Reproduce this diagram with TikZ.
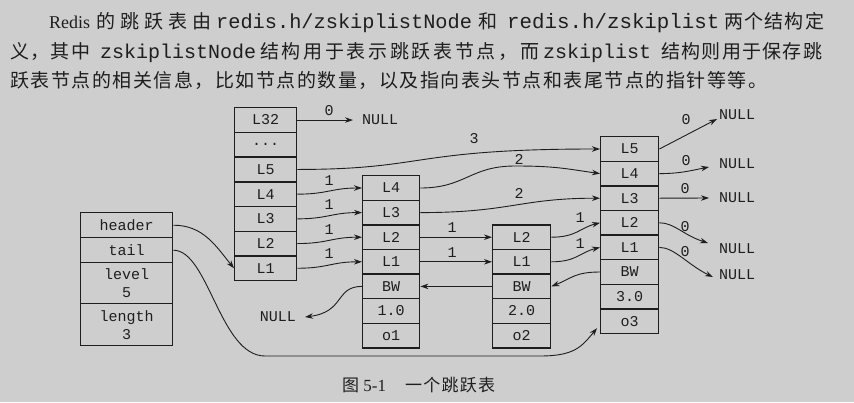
\documentclass[tikz,border=0pt]{standalone}
\usepackage{fontspec}
\setmainfont{Liberation Serif}
\newfontfamily\cjk{Noto Sans CJK SC}
\newfontfamily\mono{Liberation Mono}
\usetikzlibrary{arrows.meta}
\definecolor{bg}{RGB}{206,206,206}
\definecolor{ink}{RGB}{30,30,30}
% spread CJK characters evenly over a given width
\def\spreadA#1{#1\spreadB}
\def\spreadB#1{\ifx\relax#1\else\hfil#1\expandafter\spreadB\fi}
\newcommand\zhs[2]{\makebox[#1][s]{\cjk\spreadA#2\relax}}
\tikzset{
 cell/.style={draw=ink, line width=1.4pt, anchor=north west, inner sep=0pt, text=ink, font=\mono\fontsize{15}{18}\selectfont, align=center},
 headcell/.style={cell, minimum width=62pt, minimum height=24.7pt},
 ncell/.style={cell, minimum width=57pt, minimum height=24.6pt},
 mcell/.style={cell, minimum width=58pt, minimum height=24.6pt},
 conn/.style={draw=ink, line width=0.9pt, -{Stealth[length=8pt,width=5.5pt]}},
 lbl/.style={text=ink, inner sep=0pt, font=\mono\fontsize{15}{15}\selectfont},
 nul/.style={text=ink, inner sep=0pt, anchor=west, font=\mono\fontsize{15}{15}\selectfont},
 zhseg/.style={text=ink, inner sep=0pt, anchor=base west, font=\fontsize{19}{20}\selectfont},
 codeseg/.style={text=ink, inner sep=0pt, anchor=base west, font=\mono\fontsize{20}{20}\selectfont},
}
\begin{document}
\begin{tikzpicture}[x=1pt,y=-1pt]
\fill[bg] (0,0) rectangle (854,402);
\useasboundingbox (0,0) rectangle (854,402);

% paragraph, line 1
\node[zhseg, font=\fontsize{18}{20}\selectfont] (t1a) at (49,28.5) {Redis};
\node[zhseg] (t1b) at (96,28.5) {\zhs{115pt}{的跳跃表由}};
\node[codeseg, font=\mono\fontsize{20.3}{20}\selectfont] (t1c) at (216,28.5) {redis.h/zskiplistNode};
\node[zhseg] (t1d) at (478,28.5) {\zhs{19pt}{和}};
\node[codeseg, font=\mono\fontsize{20.8}{20}\selectfont] (t1e) at (507,28.5) {redis.h/zskiplist};
\node[zhseg] (t1f) at (724,28.5) {\zhs{100pt}{两个结构定}};
% line 2
\node[zhseg] (t2a) at (10,58.5) {\zhs{80pt}{义，其中}};
\node[codeseg] (t2b) at (100,58.5) {zskiplistNode};
\node[zhseg] (t2c) at (260,58.5) {\zhs{279pt}{结构用于表示跳跃表节点，而}};
\node[codeseg] (t2d) at (543,58.5) {zskiplist};
\node[zhseg] (t2e) at (661,58.5) {\zhs{161pt}{结构则用于保存跳}};
% line 3
\node[zhseg] (t3) at (10,87) {\zhs{757pt}{跃表节点的相关信息，比如节点的数量，以及指向表头节点和表尾节点的指针等等。}};

% zskiplist struct
\node[cell, minimum width=92pt, minimum height=25pt] (hdr) at (80,212) {header};
\node[cell, minimum width=92pt, minimum height=25pt] (tl) at (80,237) {tail};
\node[cell, minimum width=92pt, minimum height=41pt] (lvl) at (80,262) {level\\5};
\node[cell, minimum width=92pt, minimum height=42pt] (len) at (80,303) {length\\3};

% header node
\node[headcell] (h32) at (234,107) {L32};
\node[headcell] (hd) at (234,131.7) {...};
\node[headcell] (h5) at (234,156.4) {L5};
\node[headcell] (h4) at (234,181.1) {L4};
\node[headcell] (h3) at (234,205.8) {L3};
\node[headcell] (h2) at (234,230.5) {L2};
\node[headcell] (h1) at (234,255.2) {L1};

% node o1
\node[ncell] (a4) at (362,175) {L4};
\node[ncell] (a3) at (362,199.6) {L3};
\node[ncell] (a2) at (362,224.2) {L2};
\node[ncell] (a1) at (362,248.8) {L1};
\node[ncell] (abw) at (362,273.4) {BW};
\node[ncell] (asc) at (362,298) {1.0};
\node[ncell] (aob) at (362,322.6) {o1};

% node o2
\node[mcell] (b2) at (492,224.2) {L2};
\node[mcell] (b1) at (492,248.8) {L1};
\node[mcell] (bbw) at (492,273.4) {BW};
\node[mcell] (bsc) at (492,298) {2.0};
\node[mcell] (bob) at (492,322.6) {o2};

% node o3
\node[mcell] (c5) at (600,136) {L5};
\node[mcell] (c4) at (600,160.6) {L4};
\node[mcell] (c3) at (600,185.2) {L3};
\node[mcell] (c2) at (600,209.8) {L2};
\node[mcell] (c1) at (600,234.4) {L1};
\node[mcell] (cbw) at (600,259) {BW};
\node[mcell] (csc) at (600,283.6) {3.0};
\node[mcell] (cob) at (600,308.2) {o3};

% NULLs
\node[nul] (nA) at (362,120) {NULL};
\node[nul, anchor=east] (nB) at (296,317) {NULL};
\node[nul] (nC1) at (719,115) {NULL};
\node[nul] (nC2) at (719,164) {NULL};
\node[nul] (nC3) at (719,198) {NULL};
\node[nul] (nC4) at (719,249) {NULL};
\node[nul] (nC5) at (719,275) {NULL};

% connectors
\draw[conn, shorten >=9pt] (h32.east) -- (h32.east -| nA.west);
\draw[conn] (h5.east) .. controls +(130,0) and +(-190,0) .. (c5.west);
\draw[conn] (h4.east) .. controls +(30,0) and +(-30,0) .. (a4.west);
\draw[conn] (h3.east) .. controls +(30,0) and +(-30,0) .. (a3.west);
\draw[conn] (h2.east) .. controls +(30,0) and +(-30,0) .. (a2.west);
\draw[conn] (h1.east) .. controls +(30,0) and +(-30,0) .. (a1.west);
\draw[conn] (a4.east) .. controls +(45,0) and +(-45,0) .. (515,166) .. controls +(40,0) and +(-35,-5) .. (c4.west);
\draw[conn] (a3.east) .. controls +(90,0) and +(-80,0) .. (c3.west);
\draw[conn] (a2.east) -- (b2.west);
\draw[conn] (a1.east) -- (b1.west);
\draw[conn] (b2.east) .. controls +(25,0) and +(-20,5) .. (c2.west);
\draw[conn] (b1.east) .. controls +(25,0) and +(-20,5) .. (c1.west);
\draw[conn] (cbw.west) .. controls +(-25,0) and +(20,-8) .. (bbw.east);
\draw[conn] (bbw.west) -- (abw.east);
\draw[conn] (abw.west) .. controls +(-27,0) and +(40,-5) .. ([xshift=9pt]nB.east);
\draw[conn] (c5.east) -- ([xshift=-2pt,yshift=-4pt]nC1.west);
\draw[conn] (c4.east) .. controls +(20,0) and +(-20,4) .. ([xshift=-10pt,yshift=-3pt]nC2.west);
\draw[conn] (c3.east) -- ([xshift=-10pt]nC3.west);
\draw[conn] (c2.east) .. controls +(15,0) and +(-25,-8) .. ([xshift=-11pt,yshift=6pt]nC4.west);
\draw[conn] (c1.east) .. controls +(15,0) and +(-25,-12) .. ([xshift=-6pt,yshift=-2pt]nC5.west);
\draw[conn] (hdr.east) .. controls +(30,0) and +(-18,-22) .. (h1.west);
\draw[conn] (tl.east) .. controls +(35,0) and +(-45,0) .. (265,356) -- (540,356) .. controls +(35,0) and +(-15,18) .. ([xshift=-3pt,yshift=-7pt]cob.west);

% labels
\node[lbl] (l0) at (329,111) {0};
\node[lbl] (l3) at (474,139) {3};
\node[lbl] (l2a) at (519,159) {2};
\node[lbl] (l2b) at (519,193) {2};
\node[lbl] (l1a) at (329,181) {1};
\node[lbl] (l1b) at (329,205) {1};
\node[lbl] (l1c) at (329,230) {1};
\node[lbl] (l1d) at (329,254) {1};
\node[lbl] (l1e) at (452,228) {1};
\node[lbl] (l1f) at (452,253) {1};
\node[lbl] (l1g) at (580,218) {1};
\node[lbl] (l1h) at (580,244) {1};
\node[lbl] (r0a) at (686,120) {0};
\node[lbl] (r0b) at (686,161) {0};
\node[lbl] (r0c) at (685,189) {0};
\node[lbl] (r0d) at (685,227) {0};
\node[lbl] (r0e) at (685,252) {0};

% caption
\node[zhseg, font=\fontsize{17}{20}\selectfont] (cap1) at (342,391) {{\cjk 图} 5-1};
\node[zhseg, font=\fontsize{17}{20}\selectfont] (cap2) at (405,391) {\zhs{90pt}{一个跳跃表}};
\end{tikzpicture}
\end{document}
